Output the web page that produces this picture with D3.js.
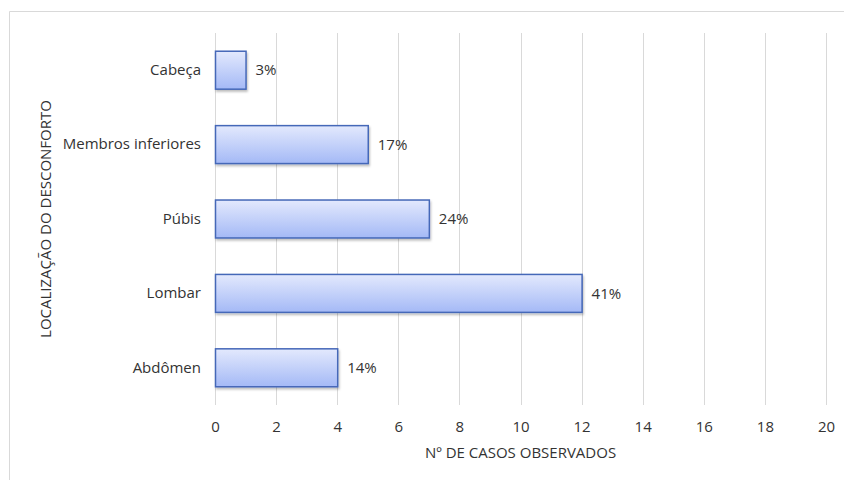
<!DOCTYPE html>
<html>
<head>
<meta charset="UTF-8">
<script src="https://d3js.org/d3.v7.min.js"></script>
<style>
  body { margin: 0; background: #fff; }
  text { font-family: "Open Sans", "Noto Sans", sans-serif; fill: #333333; }
</style>
</head>
<body>
<div id="container"></div>
<script>
// dados
var categorias = ["Cabeça", "Membros inferiores", "Púbis", "Lombar", "Abdômen"];
var casos = [1, 5, 7, 12, 4];
var percentuais = ["3%", "17%", "24%", "41%", "14%"];
var ticksX = [0, 2, 4, 6, 8, 10, 12, 14, 16, 18, 20];

var width = 844, height = 480;
var plotLeft = 215, plotRight = 826, plotTop = 33, plotBottom = 405;

var svg = d3.select("#container").append("svg")
  .attr("width", width)
  .attr("height", height);

var defs = svg.append("defs");
var grad = defs.append("linearGradient")
  .attr("id", "barra")
  .attr("x1", 0).attr("y1", 0).attr("x2", 0).attr("y2", 1);
grad.append("stop").attr("offset", "0%").attr("stop-color", "#e3e9fd");
grad.append("stop").attr("offset", "100%").attr("stop-color", "#a4b9f6");

var sombra = defs.append("filter").attr("id", "sombra")
  .attr("x", "-5%").attr("y", "-10%").attr("width", "115%").attr("height", "130%");
sombra.append("feDropShadow")
  .attr("dx", 1).attr("dy", 2).attr("stdDeviation", 1.2)
  .attr("flood-color", "#000").attr("flood-opacity", 0.25);

// moldura (só topo e esquerda visíveis)
svg.append("path")
  .attr("d", "M9.5," + height + "V11.5H" + width)
  .attr("fill", "none")
  .attr("stroke", "#d9d9d9")
  .attr("stroke-width", 1);

var x = d3.scaleLinear().domain([0, 20]).range([plotLeft, plotRight]);
var y = d3.scaleBand().domain(categorias).range([plotTop, plotBottom]).paddingInner(0.49).paddingOuter(0.245);

// grade vertical
svg.append("g")
  .selectAll("line")
  .data(ticksX)
  .enter()
  .append("line")
  .attr("x1", function(d){ return Math.round(x(d)) + 0.5; })
  .attr("x2", function(d){ return Math.round(x(d)) + 0.5; })
  .attr("y1", plotTop)
  .attr("y2", plotBottom)
  .attr("stroke", "#d9d9d9");

// eixo x
var eixoX = svg.append("g")
  .attr("transform", "translate(0," + plotBottom + ")")
  .call(d3.axisBottom(x).tickValues(ticksX).tickSize(0).tickPadding(16));
eixoX.select(".domain").remove();
eixoX.selectAll("text").attr("font-size", 15).attr("font-family", null).attr("fill", null);

// eixo y
var eixoY = svg.append("g")
  .attr("transform", "translate(" + plotLeft + ",0)")
  .call(d3.axisLeft(y).tickSize(0).tickPadding(14));
eixoY.select(".domain").remove();
eixoY.selectAll("text").attr("font-size", 15).attr("font-family", null).attr("fill", null);

// barras
var barras = svg.append("g")
  .selectAll("g")
  .data(categorias)
  .enter()
  .append("g");

barras.append("rect")
  .attr("x", x(0) + 0.5)
  .attr("y", function(d){ return y(d); })
  .attr("width", function(d, i){ return x(casos[i]) - x(0); })
  .attr("height", y.bandwidth())
  .attr("fill", "url(#barra)")
  .attr("stroke", "#4568b8")
  .attr("stroke-width", 1.5)
  .attr("filter", "url(#sombra)");

barras.append("text")
  .attr("x", function(d, i){ return x(casos[i]) + 10; })
  .attr("y", function(d){ return y(d) + y.bandwidth() / 2; })
  .attr("dy", "0.35em")
  .attr("font-size", 15)
  .text(function(d, i){ return percentuais[i]; });

// títulos
svg.append("text")
  .attr("x", (plotLeft + plotRight) / 2)
  .attr("y", 458)
  .attr("text-anchor", "middle")
  .attr("font-size", 15)
  .text("Nº DE CASOS OBSERVADOS");

svg.append("text")
  .attr("transform", "translate(51," + ((plotTop + plotBottom) / 2) + ") rotate(-90)")
  .attr("text-anchor", "middle")
  .attr("font-size", 15)
  .text("LOCALIZAÇÃO DO DESCONFORTO");
</script>
</body>
</html>
